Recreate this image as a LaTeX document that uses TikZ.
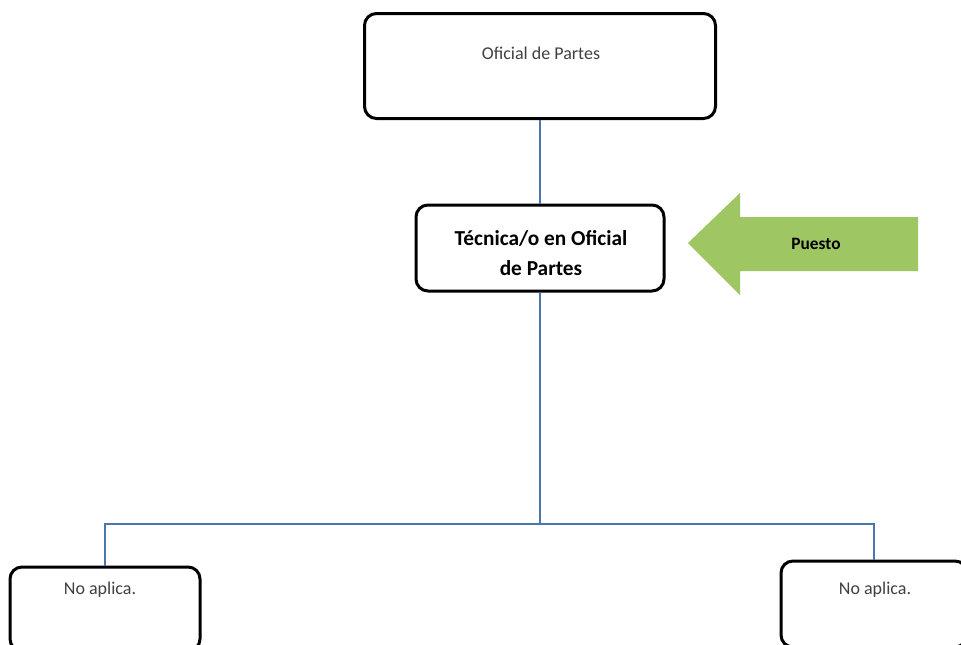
\documentclass[tikz,border=0pt]{standalone}
\usepackage{fontspec}
\setmainfont{Carlito}
\begin{document}
\begin{tikzpicture}[x=0.75pt,y=-0.75pt,
  box/.style={draw=black,line width=2.25pt,rounded corners=9pt,fill=white,inner sep=0pt},
  conn/.style={draw=linkblue,line width=1pt},
  reg/.style={text=txtgray,font=\fontsize{13.5}{16}\selectfont,inner sep=0pt},
  bld/.style={text=black,font=\fontsize{16}{22.5}\selectfont\bfseries,align=center,inner sep=0pt}]
\definecolor{linkblue}{RGB}{74,118,176}
\definecolor{txtgray}{RGB}{64,64,64}
\definecolor{arrowgreen}{RGB}{158,198,98}
\useasboundingbox (0,0) rectangle (961,644);
\clip (0,0) rectangle (961,644);
\fill[white] (0,0) rectangle (961,644);
% connectors first (below boxes)
\node[box,minimum width=351*0.75pt,minimum height=105*0.75pt] (top) at (540,66) {};
\node[box,minimum width=248*0.75pt,minimum height=86*0.75pt] (mid) at (540,248) {};
\node[box,minimum width=190*0.75pt,minimum height=84*0.75pt] (left) at (105,609) {};
\node[box,minimum width=186*0.75pt,minimum height=86*0.75pt] (right) at (874,604) {};
\coordinate (j) at (540,524);
\coordinate (hl) at (105,524);
\coordinate (hr) at (874,524);
\draw[conn] (top.south) -- (mid.north);
\draw[conn] (mid.south) -- (j);
\draw[conn] (left.north) -- (hl) -- (hr) -- (right.north);
% texts
\node[reg] (ttop) at (541,53) {Oficial de Partes};
\node[bld] (tmid) at (541,253) {Técnica/o en Oficial\\de Partes};
\node[reg] (tleft) at (100,590) {No aplica.};
\node[reg] (tright) at (875,590) {No aplica.};
% green arrow
\fill[arrowgreen] (688,243) -- (740,193) -- (740,217) -- (918,217) -- (918,271) -- (740,271) -- (740,295) -- cycle;
\node[text=black,font=\fontsize{13}{15}\selectfont\bfseries,inner sep=0pt] (puesto) at (816,244) {Puesto};
\end{tikzpicture}
\end{document}
